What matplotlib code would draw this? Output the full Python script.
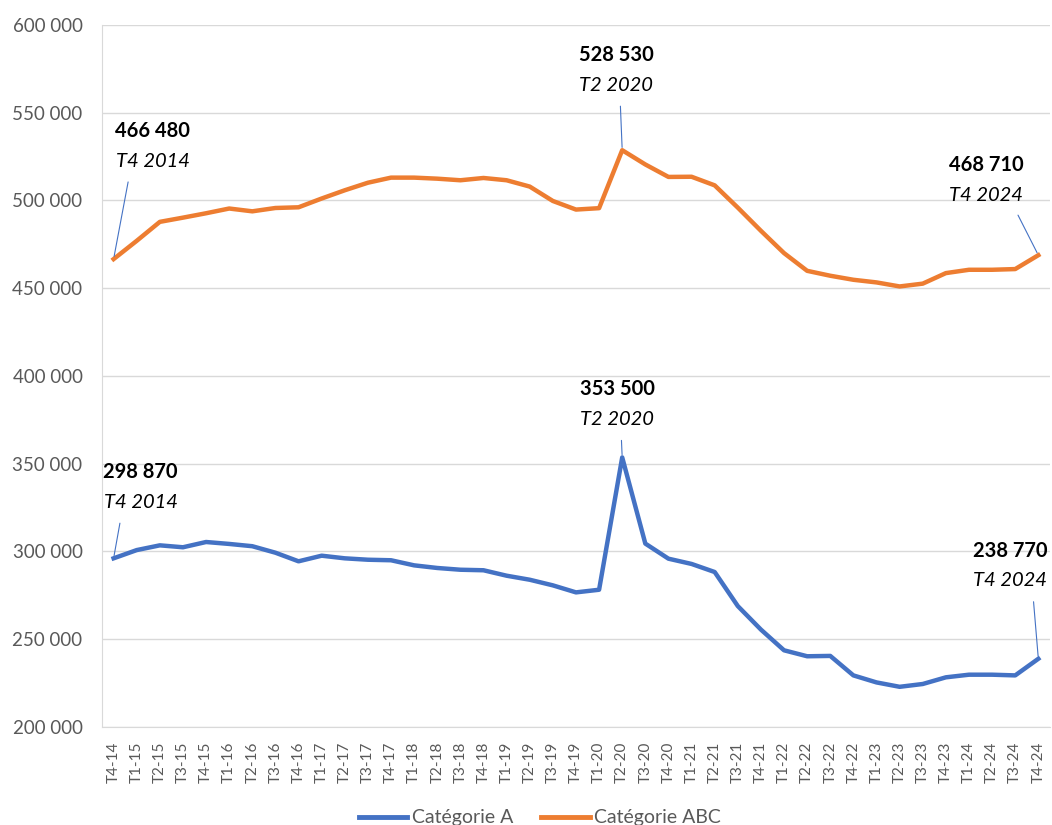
import matplotlib
matplotlib.use("Agg")
import matplotlib.pyplot as plt
from matplotlib.ticker import FuncFormatter

plt.rcParams['font.family'] = ['Lato', 'DejaVu Sans']

quarters = [
    "T4-14",
    "T1-15", "T2-15", "T3-15", "T4-15",
    "T1-16", "T2-16", "T3-16", "T4-16",
    "T1-17", "T2-17", "T3-17", "T4-17",
    "T1-18", "T2-18", "T3-18", "T4-18",
    "T1-19", "T2-19", "T3-19", "T4-19",
    "T1-20", "T2-20", "T3-20", "T4-20",
    "T1-21", "T2-21", "T3-21", "T4-21",
    "T1-22", "T2-22", "T3-22", "T4-22",
    "T1-23", "T2-23", "T3-23", "T4-23",
    "T1-24", "T2-24", "T3-24", "T4-24",
]

# Catégorie A
cat_a = [
    296000, 300700, 303400, 302300, 305300, 304200, 302900, 299200, 294300,
    297500, 296000, 295200, 294900, 292000, 290500, 289500, 289200, 286100,
    283800, 280600, 276600, 278100, 353500, 304400, 295800, 292800, 288200,
    268800, 255400, 243600, 240200, 240400, 229300, 225300, 222800, 224400,
    228200, 229700, 229700, 229300, 238770,
]

# Catégorie ABC
cat_abc = [
    466480, 476900, 487700, 490100, 492600, 495300, 493700, 495600, 496000,
    501000, 505700, 510000, 512900, 512900, 512300, 511400, 512700, 511400,
    507800, 499600, 494700, 495500, 528530, 520400, 513300, 513400, 508500,
    495800, 482600, 469900, 459800, 457000, 454700, 453200, 450900, 452500,
    458500, 460400, 460400, 460800, 468710,
]

# annotations: (index, number text, period text)
labels_abc = [(0, "466 480", "T4 2014"), (22, "528 530", "T2 2020"), (40, "468 710", "T4 2024")]
labels_a = [(0, "298 870", "T4 2014"), (22, "353 500", "T2 2020"), (40, "238 770", "T4 2024")]

blue = "#4472C4"
orange = "#ED7D31"
grey = "#595959"

fig = plt.figure(figsize=(10.52, 8.25), dpi=100)
ax = fig.add_axes([0.097, 0.119, 0.901, 0.851])

x = list(range(len(quarters)))
ax.plot(x, cat_a, color=blue, lw=3.2, label="Catégorie A", solid_joinstyle='round')
ax.plot(x, cat_abc, color=orange, lw=3.2, label="Catégorie ABC", solid_joinstyle='round')

ax.set_xlim(-0.5, len(quarters) - 0.5)
ax.set_ylim(200000, 600000)
ax.set_yticks(range(200000, 600001, 50000))
ax.yaxis.set_major_formatter(FuncFormatter(lambda v, p: f"{int(v):,}".replace(",", " ")))
ax.set_xticks(x)
ax.set_xticklabels(quarters, rotation=90)

ax.grid(axis='y', color="#d9d9d9", lw=1)
ax.set_axisbelow(True)
for s in ['top', 'right']:
    ax.spines[s].set_visible(False)
for s in ['left', 'bottom']:
    ax.spines[s].set_color("#d9d9d9")
ax.tick_params(axis='both', length=0, colors=grey)
ax.tick_params(axis='y', labelsize=13.5, pad=14)
ax.tick_params(axis='x', labelsize=11, pad=11)


def add_label(series, idx, num, per, dnum, dper, relx):
    # number in bold, period in italic, thin leader line to the point
    y = series[idx]
    ax.annotate(num, (idx, y), xytext=dnum, textcoords='offset pixels',
                ha='center', va='center', fontsize=14.5, fontweight='bold', color='black')
    ax.annotate(per, (idx, y), xytext=dper, textcoords='offset pixels',
                ha='center', va='center', fontsize=14.5, fontstyle='italic', color='black',
                arrowprops=dict(arrowstyle='-', color=blue, lw=0.8, relpos=(relx, 0),
                                shrinkA=7, shrinkB=2))


offs_abc = [((39, 128), (39, 98), 0.2), ((-6, 95), (-6, 65), 0.55), ((-52, 90), (-52, 60), 0.85)]
offs_a = [((27, 86), (27, 56), 0.25), ((-5, 68), (-5, 38), 0.55), ((-28, 108), (-28, 78), 0.8)]
for (idx, num, per), (dn, dp, rx) in zip(labels_abc, offs_abc):
    add_label(cat_abc, idx, num, per, dn, dp, rx)
for (idx, num, per), (dn, dp, rx) in zip(labels_a, offs_a):
    add_label(cat_a, idx, num, per, dn, dp, rx)

leg = fig.legend(loc='center', bbox_to_anchor=(540 / 1052, 1 - 818 / 825), ncol=2,
                 frameon=False, fontsize=14, handlelength=2.5, handletextpad=0.25,
                 columnspacing=1.4)
for t in leg.get_texts():
    t.set_color(grey)
for l in leg.get_lines():
    l.set_linewidth(3.5)

fig.savefig("out.png", dpi=100)
